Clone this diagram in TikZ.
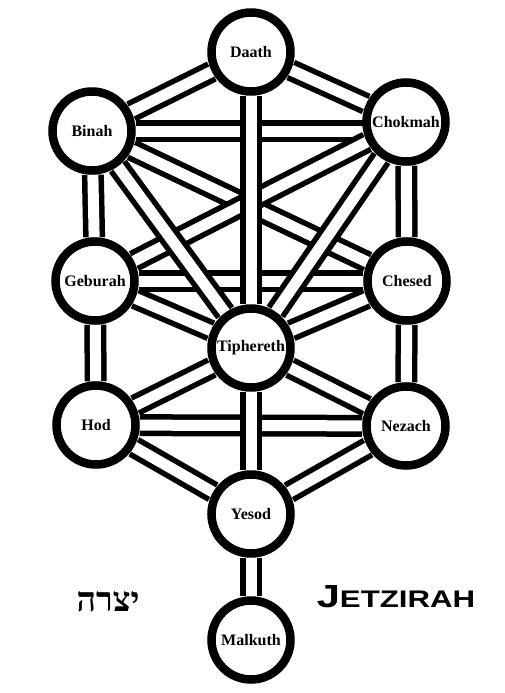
\documentclass[tikz,border=0pt]{standalone}
\usepackage{fontspec}
\setmainfont{Liberation Serif}
\newfontfamily\hebrewfont[Script=Hebrew]{Liberation Serif}
\newfontfamily\worldfont{Liberation Sans}
\TeXXeTstate=1
\usetikzlibrary{calc}
\pgfdeclarelayer{background}
\pgfsetlayers{background,main}

\tikzset{
  sefira/.style={circle, draw=black, fill=white, line width=8.5pt,
    minimum size=79pt, inner sep=0pt,
    font=\fontsize{16}{16}\selectfont\bfseries},
  pathout/.style={line width=22pt, draw=black},
  pathin/.style={line width=11pt, draw=white},
}
% un sentiero: bordo nero + interno bianco
\newcommand{\sentiero}[2]{\draw[pathout] (#1) -- (#2); \draw[pathin] (#1) -- (#2);}

\begin{document}
\begin{tikzpicture}[x=1pt, y=-1pt]
\useasboundingbox (0,0) rectangle (504,693);

% sefirot
\node[sefira] (Daath)     at (251,52)  {Daath};
\node[sefira] (Binah)     at (92,131)  {Binah};
\node[sefira] (Chokmah)   at (406,122) {Chokmah};
\node[sefira] (Geburah)   at (95,281)  {Geburah};
\node[sefira] (Chesed)    at (407,281) {Chesed};
\node[sefira] (Tiphereth) at (251,348) {Tiphereth};
\node[sefira] (Hod)       at (96,425)  {Hod};
\node[sefira] (Nezach)    at (406,426) {Nezach};
\node[sefira] (Yesod)     at (251,514) {Yesod};
\node[sefira] (Malkuth)   at (251,640) {Malkuth};

% sentieri
\begin{pgfonlayer}{background}
% orizzontali
\sentiero{Binah}{Binah -| Chokmah}
\sentiero{Geburah}{Chesed}
\sentiero{Hod}{Nezach}
% diagonali incrociate
\sentiero{Binah}{Chesed}
\sentiero{Chokmah}{Geburah}
% verso Daath, Tiphereth, Yesod
\sentiero{Daath}{Binah}
\sentiero{Daath}{Chokmah}
\sentiero{Geburah}{Tiphereth}
\sentiero{Chesed}{Tiphereth}
\sentiero{Hod}{Tiphereth}
\sentiero{Nezach}{Tiphereth}
\sentiero{Hod}{Yesod}
\sentiero{Nezach}{Yesod}
\sentiero{Binah}{Tiphereth}
\sentiero{Chokmah}{Tiphereth}
% verticali
\sentiero{Binah}{Geburah}
\sentiero{Geburah}{Hod}
\sentiero{Chokmah}{Chesed}
\sentiero{Chesed}{Nezach}
\sentiero{Daath}{Tiphereth}
\sentiero{Tiphereth}{Yesod}
\sentiero{Yesod}{Malkuth}
\end{pgfonlayer}

% titoli
\node (ebraico) at (108,602) {\fontsize{34}{34}\selectfont\hebrewfont\bfseries\beginR יצרה\endR};
\node (mondo) at (396,597) {\scalebox{1.3}[1]{\worldfont\bfseries
  \fontsize{32}{32}\selectfont J\fontsize{24}{24}\selectfont ETZIRAH}};

\end{tikzpicture}
\end{document}
